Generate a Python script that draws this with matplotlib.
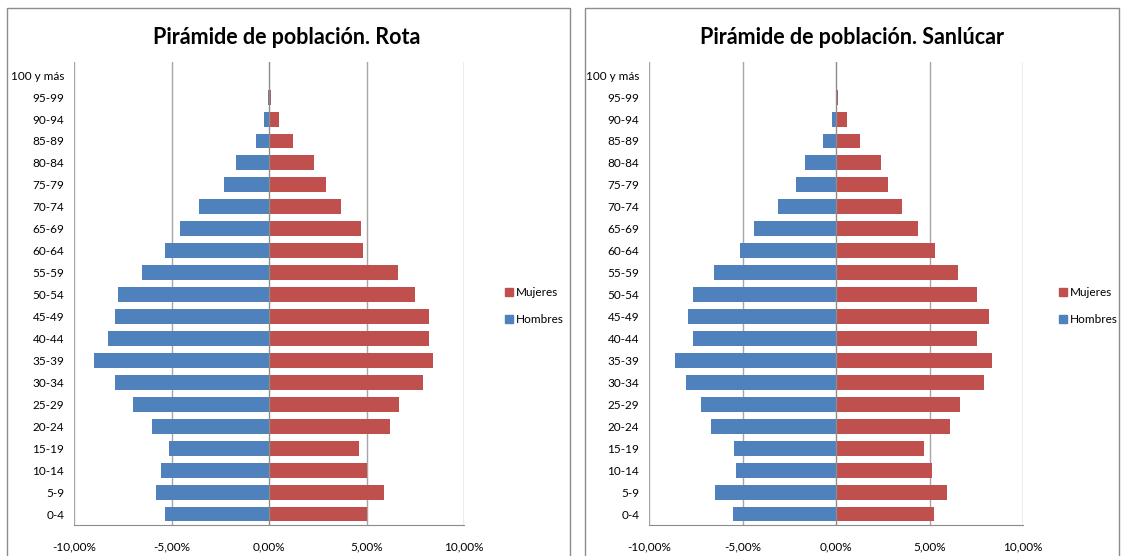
import matplotlib
matplotlib.use("Agg")
import matplotlib.pyplot as plt
from matplotlib.patches import Rectangle
from matplotlib.lines import Line2D

plt.rcParams['font.family'] = ['Lato', 'DejaVu Sans']

# age groups, bottom to top
ages = ['0-4', '5-9', '10-14', '15-19', '20-24', '25-29', '30-34', '35-39', '40-44',
        '45-49', '50-54', '55-59', '60-64', '65-69', '70-74', '75-79', '80-84',
        '85-89', '90-94', '95-99', '100 y más']

# percentages (hombres drawn to the left as negative values)
rota_hombres = [-5.31, -5.82, -5.56, -5.15, -5.98, -7.00, -7.88, -8.96, -8.24,
                -7.88, -7.72, -6.49, -5.31, -4.54, -3.61, -2.33, -1.71,
                -0.68, -0.27, -0.07, 0.0]
rota_mujeres = [5.02, 5.89, 5.02, 4.61, 6.20, 6.66, 7.89, 8.41, 8.20,
                8.20, 7.48, 6.61, 4.81, 4.71, 3.68, 2.91, 2.29,
                1.22, 0.50, 0.09, 0.0]

sanlucar_hombres = [-5.50, -6.46, -5.34, -5.45, -6.68, -7.21, -8.02, -8.61, -7.64,
                    -7.91, -7.64, -6.52, -5.13, -4.38, -3.09, -2.13, -1.64,
                    -0.68, -0.20, -0.02, 0.0]
sanlucar_mujeres = [5.23, 5.91, 5.11, 4.73, 6.07, 6.61, 7.89, 8.32, 7.52,
                    8.16, 7.52, 6.55, 5.27, 4.41, 3.55, 2.80, 2.38,
                    1.30, 0.61, 0.13, 0.07]

xticks = [-10, -5, 0, 5, 10]
titles = ['Pirámide de población. Rota', 'Pirámide de población. Sanlúcar']

c_hom = '#4F81BD'
c_muj = '#C0504D'
grid_c = '#A6A6A6'

W, H = 1121, 556
fig = plt.figure(figsize=(W / 100, H / 100), dpi=100)

def px(x0, y0, x1, y1):
    return [x0 / W, 1 - y1 / H, (x1 - x0) / W, (y1 - y0) / H]

# chart borders
for bx0, bx1 in [(7, 570), (585, 1119)]:
    fig.patches.append(Rectangle((bx0 / W, -0.01), (bx1 - bx0) / W, 1 - 8 / H + 0.01,
                                 transform=fig.transFigure, fill=False,
                                 edgecolor='#8C8C8C', linewidth=1.0))

panels = [
    (px(74, 62, 464, 525), rota_hombres, rota_mujeres, 287, 503),
    (px(649, 62, 1023, 525), sanlucar_hombres, sanlucar_mujeres, 852, 1057),
]

for i, (rect, hom, muj, tx, lx) in enumerate(panels):
    ax = fig.add_axes(rect)
    y = list(range(len(ages)))
    ax.barh(y, hom, height=0.68, color=c_hom, zorder=3, label='Hombres')
    ax.barh(y, muj, height=0.68, color=c_muj, zorder=3, label='Mujeres')
    ax.set_xlim(-10, 10)
    ax.set_ylim(-0.5, 20.6)
    ax.set_xticks(xticks)
    ax.set_xticklabels([f'{v:.2f}%'.replace('.', ',') for v in xticks], fontsize=8.5)
    ax.set_yticks(y)
    ax.set_yticklabels(ages, fontsize=8.5)
    ax.tick_params(axis='both', length=0)
    ax.tick_params(axis='y', pad=7)
    ax.tick_params(axis='x', pad=12)
    for v in xticks:
        if v != 0:
            ax.axvline(v, color=grid_c, linewidth=1.0, zorder=1)
    ax.axvline(0, color='#8C8C8C', linewidth=1.0, zorder=4)
    for s in ['top', 'right', 'left']:
        ax.spines[s].set_visible(False)
    ax.spines['bottom'].set_color('#8C8C8C')
    fig.text(tx / W, 1 - 37 / H, titles[i], fontsize=15.5, fontweight='bold',
             ha='center', va='center', color='black')
    handles = [Line2D([], [], marker='s', linestyle='', color=c_muj, markersize=6),
               Line2D([], [], marker='s', linestyle='', color=c_hom, markersize=6)]
    fig.legend(handles, ['Mujeres', 'Hombres'], loc='center left',
               bbox_to_anchor=(lx / W, 1 - 306 / H), frameon=False, fontsize=8.5,
               handletextpad=0.1, labelspacing=1.3, handlelength=1.0,
               borderpad=0.0, borderaxespad=0.0)

fig.savefig('out.png', dpi=100)
